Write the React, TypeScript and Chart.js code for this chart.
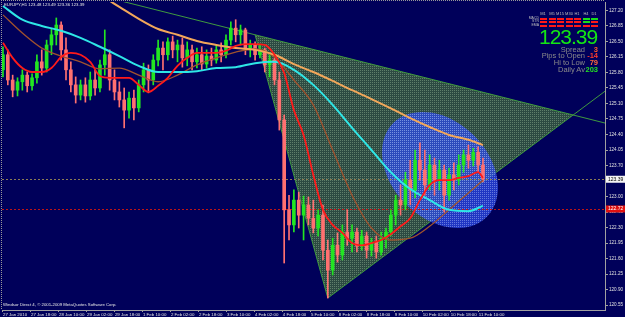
import React, { useEffect, useRef } from 'react';
import { Chart, registerables } from 'chart.js';
Chart.register(...registerables);

// ---------- data ----------
const symbolTitle = 'EURJPY,H1  123.48 123.49 123.36 123.39';
const copyright = 'Windsor Direct 4, \u00A9 2001-2009 MetaQuotes Software Corp.';

const opens = [125.86,126.20,125.63,125.40,125.59,125.74,125.50,125.68,126.04,125.90,
126.42,126.65,126.87,126.31,125.86,125.52,125.29,125.52,125.27,125.63,
125.45,125.97,126.20,125.63,125.36,125.18,124.95,125.22,125.00,125.52,
125.86,125.63,126.08,126.35,126.20,126.49,126.31,126.42,126.13,126.31,
126.04,126.20,125.99,126.17,126.08,126.31,126.20,126.53,126.80,126.65,
126.76,126.35,126.42,126.20,126.31,125.97,126.08,125.63,124.73,122.70,
122.36,122.92,122.58,122.81,122.51,122.29,122.58,121.79,121.34,121.90,
121.68,122.20,122.06,122.20,121.88,122.11,121.79,121.97,121.75,122.06,
122.20,122.58,122.92,122.81,123.37,123.15,123.82,123.60,123.26,123.71,
123.37,123.60,123.03,123.49,123.37,123.71,123.94,123.82,124.00,123.71];

const highs = [126.38,126.31,125.74,125.68,125.86,125.81,125.77,126.20,126.31,126.53,
126.80,127.03,126.94,126.58,126.04,125.70,125.63,125.68,125.81,125.86,
126.08,126.76,126.31,125.86,125.59,125.45,125.36,125.40,125.63,126.01,
125.97,126.20,126.53,126.49,126.58,126.62,126.53,126.58,126.49,126.42,
126.35,126.38,126.31,126.35,126.42,126.47,126.65,126.94,126.99,126.87,
126.80,126.53,126.49,126.42,126.35,126.20,126.13,125.81,124.84,123.03,
123.15,123.10,123.01,122.99,122.92,122.70,122.81,122.02,122.06,122.18,
122.36,122.70,122.36,122.29,122.24,122.20,122.06,122.11,122.20,122.29,
122.70,123.03,123.26,123.55,123.82,124.05,124.21,124.05,123.94,123.87,
123.82,123.71,123.64,123.76,123.94,124.05,124.16,124.09,124.12,123.87];

const lows = [125.70,125.52,125.25,125.27,125.40,125.36,125.40,125.56,125.74,125.81,
126.20,126.42,126.08,125.63,125.36,125.11,125.18,125.13,125.18,125.29,
125.36,125.74,125.40,125.18,125.02,124.55,124.77,124.73,124.91,125.36,
125.34,125.52,125.95,125.86,126.08,126.13,126.04,125.92,125.95,125.86,
125.90,125.86,125.90,125.95,126.01,126.04,126.13,126.42,126.49,126.42,
126.20,126.15,126.08,126.13,125.81,125.70,125.52,124.50,121.50,122.02,
122.20,122.29,122.02,122.36,122.18,122.11,121.57,120.71,121.23,121.52,
121.57,121.90,121.75,121.75,121.79,121.61,121.66,121.61,121.68,121.84,
122.11,122.36,122.58,122.70,122.81,122.97,123.37,123.03,123.15,123.03,
123.15,122.65,122.92,123.15,123.26,123.55,123.64,123.69,123.55,123.33];

const closes = [126.20,125.63,125.40,125.59,125.74,125.50,125.68,126.04,125.90,126.42,
126.65,126.87,126.31,125.86,125.52,125.29,125.52,125.27,125.63,125.45,
125.97,126.20,125.63,125.36,125.18,124.95,125.22,125.00,125.52,125.86,
125.63,126.08,126.35,126.20,126.49,126.31,126.42,126.13,126.31,126.04,
126.20,125.99,126.17,126.08,126.31,126.20,126.53,126.80,126.65,126.76,
126.35,126.42,126.20,126.31,125.97,126.08,125.63,124.73,122.70,122.36,
122.92,122.58,122.81,122.51,122.29,122.58,121.79,121.34,121.90,121.68,
122.20,122.06,122.20,121.88,122.11,121.79,121.97,121.75,122.06,122.20,
122.58,122.92,122.81,123.37,123.15,123.82,123.60,123.26,123.71,123.37,
123.60,123.03,123.49,123.37,123.71,123.94,123.82,124.00,123.71,123.39];

const maIndex = [0,4,8,12,16,20,24,28,32,36,40,44,48,52,56,60,64,68,72,76,80,84,88,92,96,99];
const maCyan = [127.30,126.99,126.85,126.74,126.58,126.38,126.17,125.95,125.81,125.81,125.83,125.90,125.92,126.01,126.04,125.86,125.52,125.07,124.55,124.05,123.55,123.17,122.92,122.70,122.67,122.79];
const maOrange = [null,null,null,null,127.78,127.55,127.28,127.01,126.78,126.65,126.51,126.42,126.35,126.31,126.20,125.99,125.81,125.61,125.40,125.20,124.99,124.77,124.57,124.39,124.28,124.16];
const maBrown = [127.10,126.69,126.35,126.17,126.04,125.88,125.90,125.74,125.59,125.74,125.97,126.13,126.26,126.33,126.15,125.63,125.07,124.05,123.03,122.29,122.02,122.06,122.33,122.70,123.08,123.37];

const redIndex = [0,2,4,6,8,10,12,14,16,18,20,22,24,26,28,30,32,34,36,38,40,42,44,46,48,50,52,54,56,58,60,62,64,66,68,70,72,74,76,78,80,82,84,86,88,90,92,94,96,98,99];
const maRed = [126.47,126.13,125.90,125.81,125.81,125.90,126.15,126.24,126.20,126.04,
125.72,125.68,125.68,125.68,125.52,125.36,125.50,125.68,125.95,126.13,
126.24,126.24,126.24,126.29,126.40,126.44,126.44,126.42,126.20,125.79,
124.95,124.39,123.49,122.70,122.36,122.18,121.95,121.90,121.95,122.02,
122.15,122.33,122.51,122.92,123.26,123.37,123.37,123.42,123.46,123.55,
123.42];

const yTicks = [120.55,120.90,121.25,121.60,121.95,122.30,122.65,123.00,123.35,123.70,124.05,124.40,124.75,125.10,125.45,125.80,126.15,126.50,126.85,127.20];
const dateTickPos = [0,5.77,11.55,17.32,23.09,28.87,34.64,40.41,46.19,51.96,57.73,63.51,69.28,75.05,80.83,86.6,92.37,98.15];
const dateLabels = ['27 Jan 2010','27 Jan 18:00','28 Jan 10:00','29 Jan 02:00','29 Jan 18:00','1 Feb 10:00','2 Feb 02:00','2 Feb 18:00','3 Feb 10:00','4 Feb 02:00','4 Feb 18:00','5 Feb 10:00','8 Feb 02:00','8 Feb 18:00','9 Feb 10:00','10 Feb 02:00','10 Feb 18:00','11 Feb 10:00'];

const bidPrice = 123.39;
const linePrice = 122.72;

const triangleIdx = [52, 67, 117.6];
const trianglePrice = [126.65, 120.71, 124.84];

const ellipseCenter = [90.14, 123.60];
const ellipseAxisEnd = [99.78, 122.54];
const ellipseRatio = 0.73;

const tfLabels = ['M1','M5','M15','M30','H1','H4','D1'];
const rowLabels = ['MACD','STR','EMA'];
const signals = [[0,0,0,0,0,1,1],[0,0,0,0,0,1,0],[0,0,0,0,0,0,0]];
const lastPrice = '123.39';
const statLabels = ['Spread','Pips to Open','Hi to Low','Daily Av'];
const statValues = ['3','-14','79','203'];
const statColors = ['#ff5a28','#ff3a2a','#ff6a3a','#22e022'];

// ---------- styles ----------
const BG = '#00005a';
const UP = '#22e622';
const DOWN = '#ff7070';

function makePattern(ctx: CanvasRenderingContext2D, base: string, dot: string) {
  const c = document.createElement('canvas');
  c.width = 2; c.height = 2;
  const g = c.getContext('2d')!;
  g.fillStyle = base; g.fillRect(0, 0, 2, 2);
  g.clearRect(0, 0, 1, 1);
  g.fillStyle = dot; g.fillRect(0, 0, 1, 1);
  return ctx.createPattern(c, 'repeat')!;
}

const overlayPlugin = {
  id: 'mt4overlay',
  beforeDatasetsDraw(chart: any) {
    const { ctx, chartArea: a, scales: { x, y } } = chart;
    ctx.save();
    ctx.beginPath();
    ctx.rect(a.left, a.top, a.right - a.left, a.bottom - a.top);
    ctx.clip();
    const P = triangleIdx.map((t, i) => [x.getPixelForValue(t), y.getPixelForValue(trianglePrice[i])]);
    ctx.fillStyle = makePattern(ctx, '#2c4a42', '#5e7e6a');
    ctx.beginPath();
    ctx.moveTo(P[0][0], P[0][1]); ctx.lineTo(P[1][0], P[1][1]); ctx.lineTo(P[2][0], P[2][1]);
    ctx.closePath(); ctx.fill();
    ctx.strokeStyle = '#3f9a3f'; ctx.lineWidth = 1;
    ctx.beginPath(); ctx.moveTo(P[0][0], P[0][1]); ctx.lineTo(P[1][0], P[1][1]); ctx.stroke();
    const s1 = (P[2][1] - P[0][1]) / (P[2][0] - P[0][0]);
    ctx.beginPath();
    ctx.moveTo(a.left, P[0][1] + (a.left - P[0][0]) * s1);
    ctx.lineTo(a.right, P[0][1] + (a.right - P[0][0]) * s1);
    ctx.stroke();
    const s2 = (P[2][1] - P[1][1]) / (P[2][0] - P[1][0]);
    ctx.beginPath();
    ctx.moveTo(P[1][0], P[1][1]);
    ctx.lineTo(a.right, P[1][1] + (a.right - P[1][0]) * s2);
    ctx.stroke();

    const cx = x.getPixelForValue(ellipseCenter[0]), cy = y.getPixelForValue(ellipseCenter[1]);
    const ex = x.getPixelForValue(ellipseAxisEnd[0]), ey = y.getPixelForValue(ellipseAxisEnd[1]);
    const ra = Math.hypot(ex - cx, ey - cy);
    const ang = Math.atan2(ey - cy, ex - cx);
    ctx.fillStyle = makePattern(ctx, 'rgba(45,75,235,0.72)', 'rgba(125,150,255,0.8)');
    ctx.beginPath();
    ctx.ellipse(cx, cy, ra, ra * ellipseRatio, ang, 0, Math.PI * 2);
    ctx.fill();

    ctx.setLineDash([2, 2]);
    const yb = Math.round(y.getPixelForValue(bidPrice)) + 0.5;
    ctx.strokeStyle = '#8c7c54';
    ctx.beginPath(); ctx.moveTo(a.left, yb); ctx.lineTo(a.right, yb); ctx.stroke();
    const yr = Math.round(y.getPixelForValue(linePrice)) + 0.5;
    ctx.strokeStyle = '#c01414';
    ctx.beginPath(); ctx.moveTo(a.left, yr); ctx.lineTo(a.right, yr); ctx.stroke();
    ctx.restore();
  },
  afterDraw(chart: any) {
    const { ctx, chartArea: a, scales: { y } } = chart;
    ctx.save();
    ctx.strokeStyle = '#9a9a9a';
    ctx.lineWidth = 1;
    ctx.setLineDash([1, 1]);
    ctx.beginPath(); ctx.moveTo(1.5, 0); ctx.lineTo(1.5, a.bottom); ctx.stroke();
    ctx.beginPath(); ctx.moveTo(1, 0.5); ctx.lineTo(a.right, 0.5); ctx.stroke();
    ctx.setLineDash([]);
    ctx.font = '5px "Liberation Sans"';
    ctx.textBaseline = 'middle';
    const yb = y.getPixelForValue(bidPrice);
    ctx.fillStyle = '#f4f4f4';
    ctx.fillRect(a.right + 1, yb - 3.5, 19, 7);
    ctx.fillStyle = '#000000';
    ctx.fillText(bidPrice.toFixed(2), a.right + 3, yb);
    const yr = y.getPixelForValue(linePrice);
    ctx.fillStyle = '#e01010';
    ctx.fillRect(a.right + 1, yr - 3.5, 19, 7);
    ctx.fillStyle = '#ffffff';
    ctx.fillText(linePrice.toFixed(2), a.right + 3, yr);
    ctx.restore();
  },
};

export default function App() {
  const ref = useRef<HTMLCanvasElement>(null);
  useEffect(() => {
    const colors = closes.map((c, i) => (c >= opens[i] ? UP : DOWN));
    const chart = new Chart(ref.current!, {
      type: 'bar',
      data: {
        datasets: [
          { type: 'line', label: 'MA fast', data: redIndex.map((v, i) => ({ x: v, y: maRed[i] })), borderColor: '#ff1a1a', borderWidth: 1.8, pointRadius: 0, cubicInterpolationMode: 'monotone', order: 0 } as any,
          { type: 'line', label: 'MA cyan', data: maIndex.map((v, i) => ({ x: v, y: maCyan[i] })), borderColor: '#2ee6e6', borderWidth: 2, pointRadius: 0, cubicInterpolationMode: 'monotone', order: 1 } as any,
          { type: 'line', label: 'MA orange', data: maIndex.map((v, i) => ({ x: v, y: maOrange[i] })), borderColor: '#f2a75a', borderWidth: 2, pointRadius: 0, cubicInterpolationMode: 'monotone', order: 2 } as any,
          { type: 'line', label: 'MA brown', data: maIndex.map((v, i) => ({ x: v, y: maBrown[i] })), borderColor: '#a0522d', borderWidth: 1.3, pointRadius: 0, cubicInterpolationMode: 'monotone', order: 3 } as any,
          { type: 'bar', label: 'body', data: opens.map((o, i) => ({ x: i, y: [o, closes[i]] })), backgroundColor: colors, barThickness: 3, grouped: false, minBarLength: 1, order: 10 } as any,
          { type: 'bar', label: 'wick', data: lows.map((l, i) => ({ x: i, y: [l, highs[i]] })), backgroundColor: colors, barThickness: 1, grouped: false, order: 11 } as any,
        ],
      },
      options: {
        responsive: false,
        animation: false,
        devicePixelRatio: 1,
        layout: { padding: { left: 2, top: 2, right: 0, bottom: 0 } },
        plugins: { legend: { display: false }, tooltip: { enabled: false } },
        scales: {
          x: {
            type: 'linear', min: -0.2, max: 124.17, offset: false,
            afterBuildTicks: (s: any) => { s.ticks = dateTickPos.map((v) => ({ value: v })); },
            afterFit: (s: any) => { s.height = 7; s.paddingLeft = 0; s.paddingRight = 0; },
            grid: { drawOnChartArea: false, tickLength: 2, color: '#a0a0a0', offset: false },
            border: { display: true, color: '#a0a0a0', dash: [1, 1] },
            ticks: { autoSkip: false, maxRotation: 0, minRotation: 0, align: 'start', padding: 0, color: '#e0e0e0', font: { family: 'Liberation Sans', size: 4.4 }, callback: (_v: any, i: number) => dateLabels[i] },
          },
          y: {
            type: 'linear', position: 'right', min: 120.44, max: 127.39,
            afterBuildTicks: (s: any) => { s.ticks = yTicks.map((v) => ({ value: v })); },
            afterFit: (s: any) => { s.width = 20; s.paddingTop = 0; s.paddingBottom = 0; },
            grid: { drawOnChartArea: false, tickLength: 3, color: '#a0a0a0' },
            border: { display: true, color: '#a0a0a0' },
            ticks: { autoSkip: false, padding: 1, color: '#e0e0e0', font: { family: 'Liberation Sans', size: 4.6 }, callback: (v: any) => Number(v).toFixed(2) },
          },
        },
      } as any,
      plugins: [overlayPlugin],
    });
    return () => chart.destroy();
  }, []);

  const colX = [543, 552, 560, 569, 577, 586, 594];
  const rowY = [17.5, 21.2, 25];
  return (
    <div style={{ position: 'fixed', left: 0, top: 0, width: 625, height: 317, background: BG, overflow: 'hidden', fontFamily: '"Liberation Sans", Arial, sans-serif' }}>
      <canvas ref={ref} width={625} height={317} style={{ position: 'absolute', left: 0, top: 0 }} />
      <div style={{ position: 'absolute', left: 4, top: 2, fontSize: 4.3, lineHeight: '6px', color: '#e8e8e8', whiteSpace: 'nowrap' }}>{symbolTitle}</div>
      <div style={{ position: 'absolute', left: 3, top: 302, fontSize: 4.3, lineHeight: '6px', color: '#e8e8e8', whiteSpace: 'nowrap' }}>{copyright}</div>
      {tfLabels.map((t, i) => (
        <div key={t} style={{ position: 'absolute', left: colX[i] - 6, width: 12, top: 11, textAlign: 'center', fontSize: 4, lineHeight: '5px', color: '#bdbdbd' }}>{t}</div>
      ))}
      {rowLabels.map((r, j) => (
        <div key={r} style={{ position: 'absolute', right: 625 - 539, top: rowY[j] - 2, textAlign: 'right', fontSize: 3.5, lineHeight: '4px', color: '#bdbdbd' }}>{r}</div>
      ))}
      {signals.map((row, j) => row.map((s, i) => (
        <div key={j + '-' + i} style={{ position: 'absolute', left: colX[i] - 3.5, top: rowY[j], width: 7, height: 2, background: s ? '#18e018' : '#ff1818' }} />
      )))}
      <div style={{ position: 'absolute', left: 539, top: 26, fontSize: 21, lineHeight: '21px', letterSpacing: -1, color: '#14e614', whiteSpace: 'nowrap' }}>{lastPrice}</div>
      {statLabels.map((l, i) => (
        <React.Fragment key={l}>
          <div style={{ position: 'absolute', right: 40, top: 45.5 + i * 6.9, fontSize: 7.5, lineHeight: '8px', color: '#8a8a8a', textAlign: 'right', whiteSpace: 'nowrap' }}>{l}</div>
          <div style={{ position: 'absolute', right: 27, top: 45.5 + i * 6.9, fontSize: 7.5, lineHeight: '8px', color: statColors[i], textAlign: 'right', fontWeight: 'bold' }}>{statValues[i]}</div>
        </React.Fragment>
      ))}
    </div>
  );
}
